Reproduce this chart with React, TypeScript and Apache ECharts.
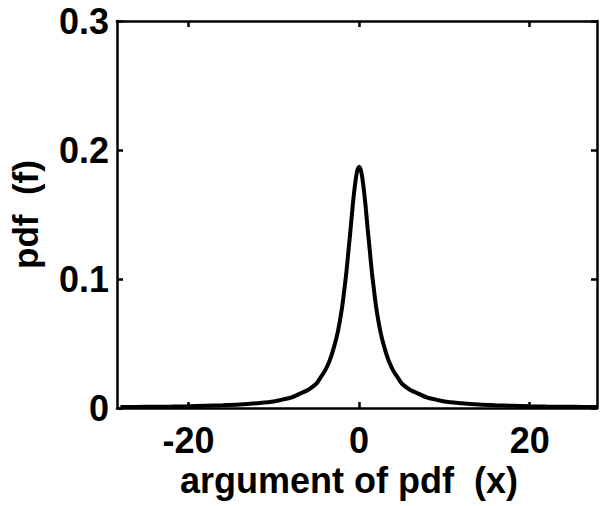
import React, { useEffect, useRef } from "react";
import * as echarts from "echarts";

const xValues = [
  -28, -25, -22, -20, -18, -16, -14, -12, -10, -9, -8, -7, -6, -5, -4.5, -4, -3.5, -3, -2.5, -2,
  -1.75, -1.5, -1.25, -1, -0.75, -0.5, -0.25, 0, 0.25, 0.5, 0.75, 1, 1.25, 1.5, 1.75, 2, 2.5, 3,
  3.5, 4, 4.5, 5, 6, 7, 8, 9, 10, 12, 14, 16, 18, 20, 22, 25, 28,
];
const pdfValues = [
  0.0007, 0.0009, 0.0011, 0.0013, 0.0017, 0.0021, 0.0027, 0.0037, 0.005, 0.0065, 0.008, 0.011,
  0.014, 0.019, 0.024, 0.029, 0.036, 0.046, 0.059, 0.078, 0.091, 0.105, 0.122, 0.139, 0.157,
  0.172, 0.183, 0.187, 0.183, 0.172, 0.157, 0.139, 0.122, 0.105, 0.091, 0.078, 0.059, 0.046,
  0.036, 0.029, 0.024, 0.019, 0.014, 0.011, 0.008, 0.0065, 0.005, 0.0037, 0.0027, 0.0021, 0.0017,
  0.0013, 0.0011, 0.0009, 0.0007,
];
const xTickValues = [-20, 0, 20];

const FONT = "Liberation Sans";

export default function App() {
  const ref = useRef<HTMLDivElement>(null);
  useEffect(() => {
    if (!ref.current) return;
    const chart = echarts.init(ref.current, undefined, { renderer: "svg" });
    const data = xValues.map((x, i) => [x, pdfValues[i]]);
    const lineStyle = { color: "#000", width: 2.5 };
    const labelStyle = { color: "#000", fontFamily: FONT, fontWeight: "bold" as const, fontSize: 36 };
    chart.setOption({
      animation: false,
      backgroundColor: "#fff",
      grid: { left: 107, right: 3, top: 21, bottom: 98, containLabel: false },
      xAxis: [
        {
          type: "value",
          min: -28.4,
          max: 27.9,
          position: "bottom",
          name: "argument of pdf  (x)",
          nameLocation: "middle",
          nameGap: 42,
          nameTextStyle: { ...labelStyle, padding: [0, 16, 0, 0] },
          axisLine: { show: true, onZero: false, lineStyle },
          axisTick: { show: true, inside: true, length: 6, customValues: xTickValues, lineStyle },
          axisLabel: { ...labelStyle, margin: 14, customValues: xTickValues },
          splitLine: { show: false },
        },
        {
          type: "value",
          min: -28.4,
          max: 27.9,
          position: "top",
          axisLine: { show: true, onZero: false, lineStyle },
          axisTick: { show: true, inside: true, length: 6, customValues: xTickValues, lineStyle },
          axisLabel: { show: false },
          splitLine: { show: false },
        },
      ],
      yAxis: [
        {
          type: "value",
          min: 0,
          max: 0.3,
          interval: 0.1,
          position: "left",
          name: "pdf  (f)",
          nameLocation: "middle",
          nameRotate: 90,
          nameGap: 74,
          nameTextStyle: { ...labelStyle, fontSize: 35 },
          axisLine: { show: true, onZero: false, lineStyle },
          axisTick: { show: true, inside: true, length: 6, lineStyle },
          axisLabel: { ...labelStyle, margin: 8 },
          splitLine: { show: false },
        },
        {
          type: "value",
          min: 0,
          max: 0.3,
          interval: 0.1,
          position: "right",
          axisLine: { show: true, onZero: false, lineStyle },
          axisTick: { show: true, inside: true, length: 6, lineStyle },
          axisLabel: { show: false },
          splitLine: { show: false },
        },
      ],
      series: [
        {
          type: "line",
          data,
          smooth: 0.3,
          showSymbol: false,
          lineStyle: { color: "#000", width: 4 },
        },
      ],
    });
    return () => chart.dispose();
  }, []);
  return <div ref={ref} style={{ width: 600, height: 506, position: "absolute", left: 0, top: 0 }} />;
}
